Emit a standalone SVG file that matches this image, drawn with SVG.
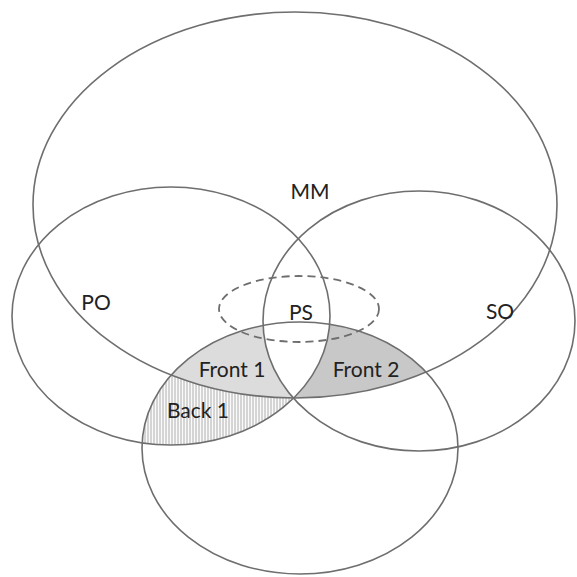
<svg xmlns="http://www.w3.org/2000/svg" width="577" height="577" viewBox="0 0 577 577">
<style>
.c{fill:none;stroke:#6e6e6e;stroke-width:1.6}
.d{fill:none;stroke:#6e6e6e;stroke-width:1.8;stroke-dasharray:8 5}
.t{font-family:Lato,"Open Sans",sans-serif;font-size:21px;fill:#222;text-anchor:middle}
</style>
<defs>
<clipPath id="cpB"><ellipse cx="300" cy="448" rx="158" ry="126"/></clipPath>
<clipPath id="cpPO"><ellipse cx="171" cy="316" rx="159" ry="129"/></clipPath>
<clipPath id="cpSO"><ellipse cx="419" cy="321" rx="156" ry="130"/></clipPath>
<mask id="mNotSO"><rect width="577" height="577" fill="#fff"/><ellipse cx="419" cy="321" rx="156" ry="130" fill="#000"/></mask>
<mask id="mNotPO"><rect width="577" height="577" fill="#fff"/><ellipse cx="171" cy="316" rx="159" ry="129" fill="#000"/></mask>
<mask id="mNotMM"><rect width="577" height="577" fill="#fff"/><ellipse cx="295" cy="205" rx="262" ry="193" fill="#000"/></mask>
<pattern id="hatch" width="3" height="6" patternUnits="userSpaceOnUse"><rect width="3" height="6" fill="#fafafa"/><line x1="1" y1="0" x2="1" y2="6" stroke="#9a9a9a" stroke-width="0.8"/></pattern>
</defs>
<rect width="577" height="577" fill="#fff"/>
<g id="regions">
<g clip-path="url(#cpB)"><g clip-path="url(#cpPO)"><ellipse id="front1" cx="295" cy="205" rx="262" ry="193" fill="#dcdcdc" mask="url(#mNotSO)"/></g></g>
<g clip-path="url(#cpB)"><g clip-path="url(#cpSO)"><ellipse id="front2" cx="295" cy="205" rx="262" ry="193" fill="#c8c8c8" mask="url(#mNotPO)"/></g></g>
<g clip-path="url(#cpB)"><ellipse id="back1" cx="171" cy="316" rx="159" ry="129" fill="url(#hatch)" mask="url(#mNotMM)"/></g>
</g>
<g id="MM"><ellipse class="c" cx="295" cy="205" rx="262" ry="193"/><text class="t" x="310" y="199">MM</text></g>
<g id="PO"><ellipse class="c" cx="171" cy="316" rx="159" ry="129"/><text class="t" x="96" y="310">PO</text></g>
<g id="SO"><ellipse class="c" cx="419" cy="321" rx="156" ry="130"/><text class="t" x="500" y="319">SO</text></g>
<g id="bottom"><ellipse class="c" cx="300" cy="448" rx="158" ry="126"/></g>
<g id="PS"><ellipse class="d" cx="299" cy="309" rx="80" ry="33"/><text class="t" x="301" y="320">PS</text></g>
<g id="labels">
<text class="t" x="232" y="377">Front 1</text>
<text class="t" x="366" y="377">Front 2</text>
<text class="t" x="198" y="418">Back 1</text>
</g>
</svg>
